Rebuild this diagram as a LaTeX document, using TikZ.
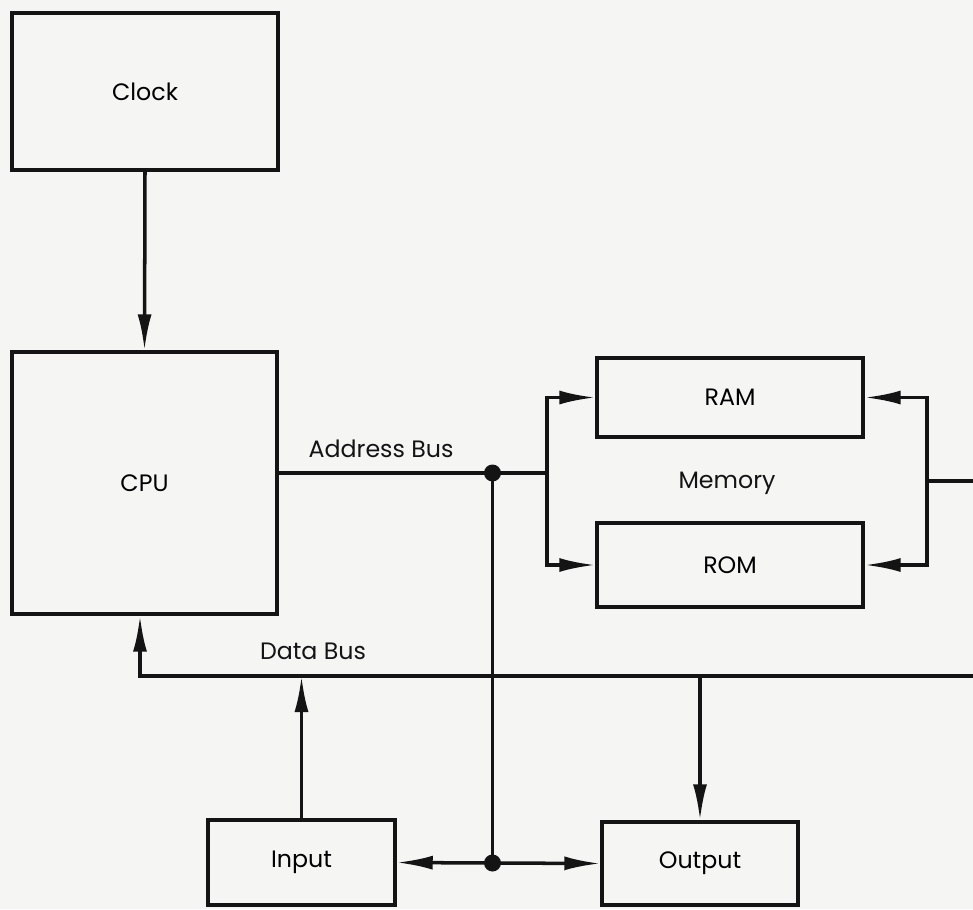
\documentclass[tikz,border=0pt]{standalone}
\usepackage{fontspec}
\setmainfont{Poppins}
\usepackage{xcolor}
\usepackage{tikz}
\usetikzlibrary{arrows.meta,positioning}
\definecolor{paper}{RGB}{245, 245, 244}
\definecolor{ink}{RGB}{20, 20, 20}

\begin{document}
\begin{tikzpicture}[x=0.02cm, y=-0.02cm, line width=2pt, draw=ink,
    box/.style={draw=ink, line width=2pt, inner sep=0pt, font=\fontsize{13.5}{15}\selectfont},
    lbl/.style={text=ink, inner sep=0pt, font=\fontsize{13.5}{15}\selectfont},
    arr/.style={-{Latex[length=0.72cm, width=0.28cm]}},
    dot/.style={circle, fill=ink, inner sep=0pt, minimum size=0.34cm}]
            % Page
            \fill[paper] (0,0) rectangle (973,909);
            \useasboundingbox (0,0) rectangle (973,909);

            % Units
            \node[box, minimum width=5.32cm, minimum height=3.14cm] (clock) at (145,91.5) {Clock};
            \node[box, minimum width=5.3cm, minimum height=5.24cm] (cpu) at (144.5,483) {CPU};
            \node[box, minimum width=5.32cm, minimum height=1.58cm] (ram) at (730,397.5) {RAM};
            \node[box, minimum width=5.32cm, minimum height=1.68cm] (rom) at (730,565) {ROM};
            \node[box, minimum width=3.74cm, minimum height=1.7cm] (input) at (301.5,862.5) {Input};
            \node[box, minimum width=3.92cm, minimum height=1.66cm] (output) at (700,863.5) {Output};

            \node[lbl] (membl) at (727,483) {Memory};
            \node[lbl] (addrbl) at (381,449) {Address Bus};
            \node[lbl] (databl) at (313,651) {Data Bus};

            % Junctions
            \node[dot] (adot) at (492.5,473) {};
            \node[dot] (idot) at (492.5,863) {};
            \coordinate (lbranch) at (547,473);
            \coordinate (rbranch) at (927,481);
            \coordinate (redge) at (973,481);
            \coordinate (dleft) at (140,676);
            \coordinate (dright) at (973,676);

            % Clock
            \draw[arr] (clock.south) -- (cpu.north);

            % Address bus
            \draw (cpu.east |- adot) -- (adot.center) -- (lbranch);
            \draw[arr] (lbranch) |- (ram.west);
            \draw[arr] (lbranch) |- (rom.west);
            \draw (adot.center) -- (idot.center);
            \draw[arr] (idot.center) -- (input.east);
            \draw[arr] (idot.center) -- (output.west);

            % Memory to the right
            \draw[arr] (rbranch) |- (ram.east);
            \draw[arr] (rbranch) |- (rom.east);
            \draw (rbranch) -- (redge);

            % Data bus
            \draw[arr] (dright) -- (dleft) -- (dleft |- cpu.south);
            \draw[arr] (input.north) -- (input.north |- dleft);
            \draw[arr] (output.north |- dleft) -- (output.north);
        \end{tikzpicture}
\end{document}
